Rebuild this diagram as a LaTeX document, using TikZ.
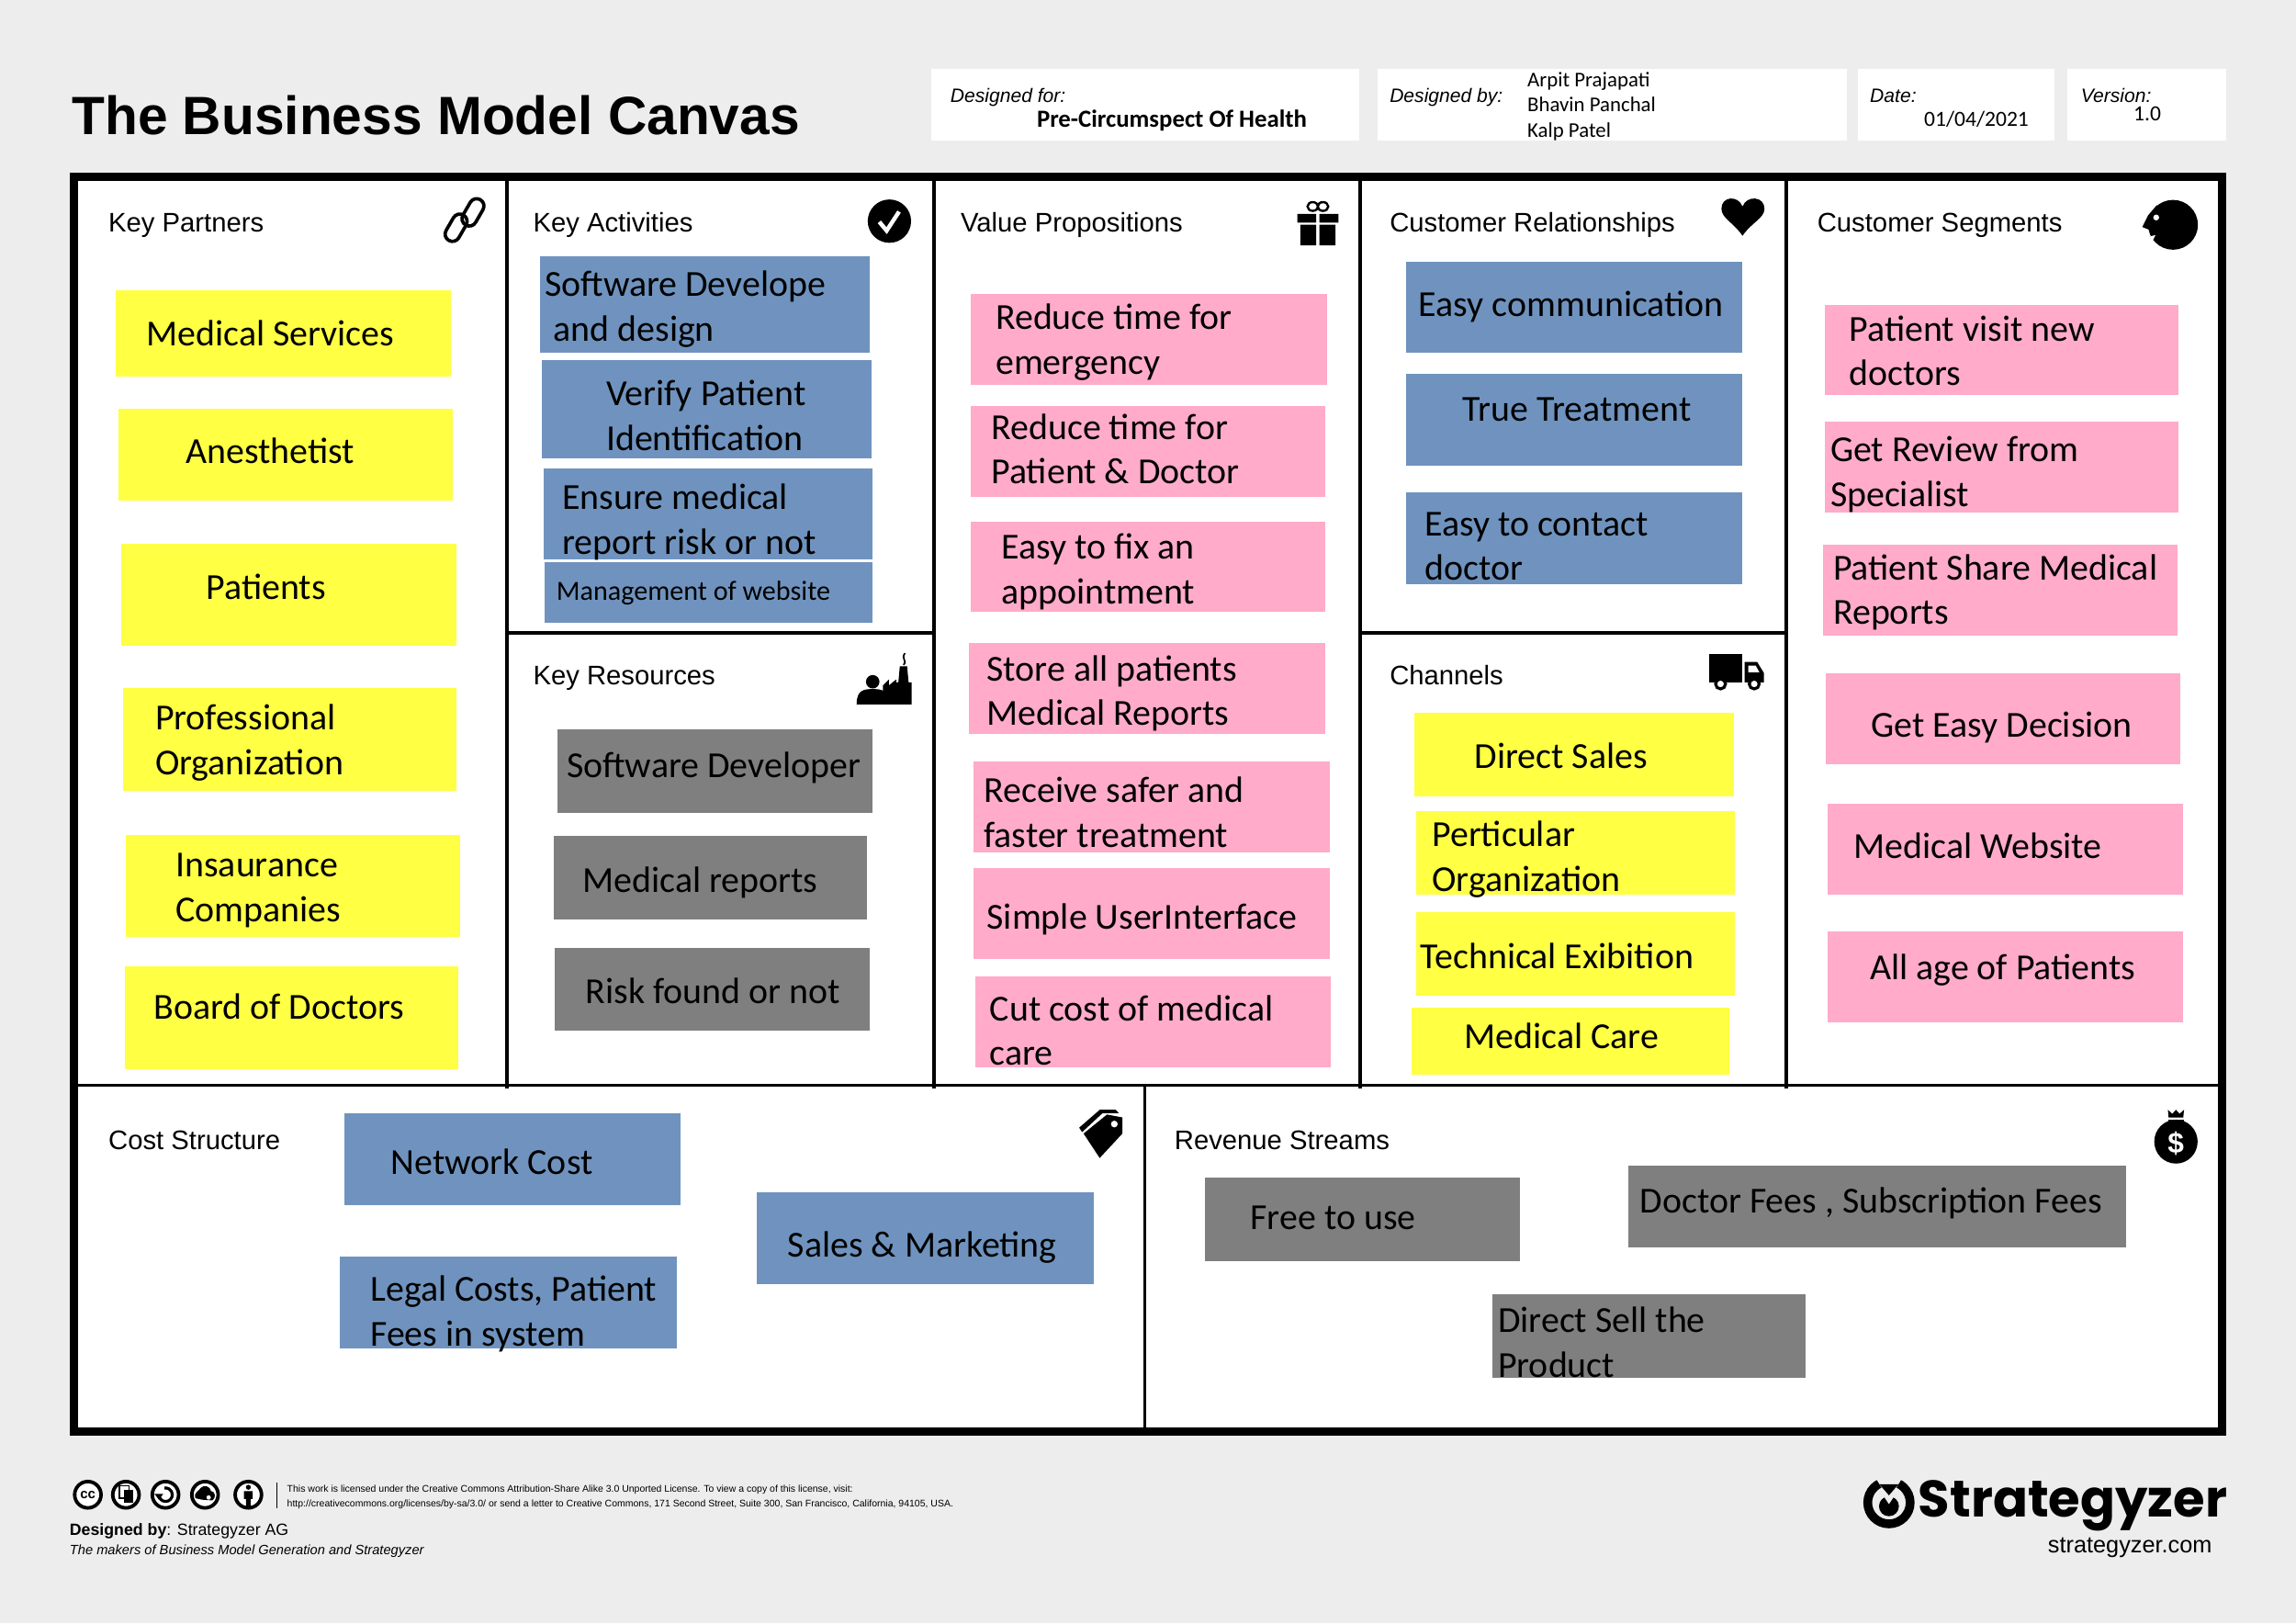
\documentclass[tikz,border=0pt]{standalone}
\usepackage{fontspec}
\setmainfont{Carlito}
\newfontfamily\arialf{Liberation Sans}
\newfontfamily\logof{Poppins}
\usetikzlibrary{shapes.geometric}
\def\uu{0.063776cm}
\definecolor{pagebg}{HTML}{EDEDED}
\definecolor{sy}{HTML}{FFFF44}
\definecolor{sp}{HTML}{FFABC9}
\definecolor{sb}{HTML}{6F93BE}
\definecolor{sg}{HTML}{7F7F7F}
\newcommand\fsz[1]{\fontsize{#1}{55.3}\selectfont}
\newcommand\LL[1]{\rule[-.2\baselineskip]{0pt}{\baselineskip}#1}
\newcommand\lineone[1]{\LL{#1}}
\newcommand\linetwo[2]{\LL{#1}\\\LL{#2}}
\tikzset{
  stickbox/.style={shape=rectangle,draw=none,inner sep=0pt,outer sep=0pt},
  sticktext/.style={anchor=west,inner sep=0pt,outer sep=0pt,align=left,text=black,font=\fsz{45.4}},
  small text/.style={sticktext,font=\fsz{34.3}},
  blocklabel/.style={anchor=base west,inner sep=0pt,font=\arialf\fontsize{33.3}{40}\selectfont},
  headlabel/.style={anchor=base west,inner sep=0pt,font=\arialf\itshape\fontsize{24}{29}\selectfont},
  headval/.style={anchor=base west,inner sep=0pt,font=\fontsize{26}{29}\selectfont},
  headbox/.style={stickbox,fill=white},
  foot/.style={anchor=base west,inner sep=0pt,font=\arialf\fontsize{11.95}{14}\selectfont},
  ccring/.style={draw=black,fill=white,circle,inner sep=0pt,minimum size=18*\uu,line width=2.4*\uu},
  thick frame/.style={draw=black,line width=5.5*\uu},
  divider/.style={draw=black,line width=2.6*\uu},
  thin divider/.style={draw=black,line width=1.8*\uu},
  linkring/.style={draw=black,shape=rectangle,rounded corners=5*\uu,minimum width=20*\uu,minimum height=10*\uu,inner sep=0pt,line width=2.3*\uu,rotate=60},
}
\newcommand\stick[9]{%
  \pgfmathsetlengthmacro\bw{(#4-#2)*\uu}\pgfmathsetlengthmacro\bh{(#5-#3)*\uu}%
  \node[stickbox,fill=#6,minimum width=\bw,minimum height=\bh] (#1) at ({(#2+#4)/2},{(#3+#5)/2}) {};
  \node[sticktext] (#1t) at (#7,#8) {#9};
}
\begin{document}
\begin{tikzpicture}[x=\uu,y=-\uu]
\useasboundingbox (0,0) rectangle (1568,1108.27);
\fill[pagebg] (0,0) rectangle (1568,1108.27);
% canvas
\fill[white] (50,120) rectangle (1518,978);
% header
\node[anchor=base west,inner sep=0pt,font=\arialf\bfseries\fontsize{66.8}{80}\selectfont] (title) at (49,91.6) {The Business Model Canvas};
\node[headbox,minimum width=292*\uu,minimum height=49*\uu] (hb1) at (782,71.5) {};
\node[headbox,minimum width=320*\uu,minimum height=49*\uu] (hb2) at (1101,71.5) {};
\node[headbox,minimum width=134*\uu,minimum height=49*\uu] (hb3) at (1336,71.5) {};
\node[headbox,minimum width=108*\uu,minimum height=49*\uu] (hb4) at (1466,71.5) {};
\node[headlabel] (h1) at (649,70) {Designed for:};
\node[headval,font=\bfseries\fontsize{30.5}{34}\selectfont] (h1v) at (708,87) {Pre-Circumspect Of Health};
\node[headlabel] (h2) at (949,70) {Designed by:};
\node[headval] (h2a) at (1043,59) {Arpit Prajapati};
\node[headval] (h2b) at (1043,76.5) {Bhavin Panchal};
\node[headval] (h2c) at (1043,94) {Kalp Patel};
\node[headlabel] (h3) at (1277,70) {Date:};
\node[headval,font=\fontsize{26.8}{30}\selectfont] (h3v) at (1314,86) {01/04/2021};
\node[headlabel] (h4) at (1421,70) {Version:};
\node[headval,font=\fontsize{26.8}{30}\selectfont] (h4v) at (1457,82.5) {1.0};
% dividers
\draw[divider] (346,120) -- (346,743);
\draw[divider] (638,120) -- (638,743);
\draw[divider] (929,120) -- (929,743);
\draw[divider] (1220,120) -- (1220,743);
\draw[divider] (346,432) -- (638,432);
\draw[divider] (929,432) -- (1220,432);
\draw[thin divider] (50,741) -- (1518,741);
\draw[thin divider] (782,741) -- (782,978);
\draw[thick frame] (50.5,120.5) rectangle (1517.5,977.5);
% block labels
\node[blocklabel] (kp) at (74,158.5) {Key Partners};
\node[blocklabel] (ka) at (364,158.5) {Key Activities};
\node[blocklabel] (vp) at (656,158.5) {Value Propositions};
\node[blocklabel] (cr) at (949,158.5) {Customer Relationships};
\node[blocklabel] (cs) at (1241,158.5) {Customer Segments};
\node[blocklabel] (kr) at (364,467.5) {Key Resources};
\node[blocklabel] (ch) at (949,467.5) {Channels};
\node[blocklabel] (co) at (74,785) {Cost Structure};
\node[blocklabel] (rs) at (802,785) {Revenue Streams};
% key partners
\stick{kpa}{79}{198}{308}{257}{sy}{100}{227}{\lineone{Medical Services}}
\stick{kpb}{81}{279}{309}{342}{sy}{127}{307}{\lineone{Anesthetist}}
\stick{kpc}{83}{371}{312}{441}{sy}{141}{400}{\lineone{Patients}}
\stick{kpd}{84}{470}{312}{540}{sy}{106}{504.5}{\linetwo{Professional}{Organization}}
\stick{kpe}{86}{570}{314}{640}{sy}{120}{605}{\linetwo{Insaurance}{Companies}}
\stick{kpf}{85}{660}{313}{730}{sy}{105}{687}{\lineone{Board of Doctors}}
% key activities
\stick{kaa}{369}{175}{594}{241}{sb}{372}{208.5}{\linetwo{Software Develope}{\hspace{0.38cm}and design}}
\stick{kab}{370}{246}{595}{313}{sb}{414}{283}{\linetwo{Verify Patient}{Identification}}
\stick{kac}{371}{320}{596}{382}{sb}{384}{354}{\linetwo{Ensure medical}{report risk or not}}
\pgfmathsetlengthmacro\bw{224*\uu}\pgfmathsetlengthmacro\bh{41*\uu}
\node[stickbox,fill=sb,minimum width=\bw,minimum height=\bh] (kad) at (484,404.5) {};
\node[small text] (kadt) at (380,401) {\lineone{Management of website}};
% key resources
\stick{kra}{381}{498}{596}{555}{sg}{387}{522}{\lineone{Software Developer}}
\stick{krb}{378}{571}{592}{628}{sg}{398}{600}{\lineone{Medical reports}}
\stick{krc}{379}{647}{594}{704}{sg}{400}{676}{\lineone{Risk found or not}}
% value propositions
\stick{vpa}{663}{201}{906}{263}{sp}{680}{231}{\linetwo{Reduce time for}{emergency}}
\stick{vpb}{663}{277}{905}{339}{sp}{677}{306}{\linetwo{Reduce time for}{Patient \& Doctor}}
\stick{vpc}{663}{356}{905}{418}{sp}{684}{388}{\linetwo{Easy to fix an}{appointment}}
\stick{vpd}{662}{439}{905}{501}{sp}{674}{471}{\linetwo{Store all patients}{Medical Reports}}
\stick{vpe}{665}{520}{908}{582}{sp}{672}{554}{\linetwo{Receive safer and}{faster treatment}}
\stick{vpf}{665}{593}{908}{655}{sp}{674}{625}{\lineone{Simple UserInterface}}
\stick{vpg}{666}{667}{909}{729}{sp}{676}{703}{\linetwo{Cut cost of medical}{care}}
% customer relationships
\stick{cra}{960}{179}{1190}{241}{sb}{969}{207}{\lineone{Easy communication}}
\stick{crb}{960}{255}{1190}{318}{sb}{999}{278.5}{\lineone{True Treatment}}
\stick{crc}{960}{336}{1190}{399}{sb}{973}{372}{\linetwo{Easy to contact}{doctor}}
% channels
\stick{cha}{966}{487}{1184}{544}{sy}{1007}{515.5}{\lineone{Direct Sales}}
\stick{chb}{967}{554}{1185}{611}{sy}{978}{584}{\linetwo{Perticular}{Organization}}
\stick{chc}{967}{623}{1185}{680}{sy}{970}{652}{\lineone{Technical Exibition}}
\stick{chd}{964}{688}{1181}{734}{sy}{1000}{707}{\lineone{Medical Care}}
% customer segments
\stick{csa}{1246}{208}{1488}{270}{sp}{1263}{239}{\linetwo{Patient visit new}{doctors}}
\stick{csb}{1246}{288}{1488}{350}{sp}{1250}{321.5}{\linetwo{Get Review from}{Specialist}}
\stick{csc}{1245}{372}{1487}{434}{sp}{1252}{402}{\linetwo{Patient Share Medical}{Reports}}
\stick{csd}{1247}{460}{1489}{522}{sp}{1278}{494}{\lineone{Get Easy Decision}}
\stick{cse}{1248}{549}{1491}{611}{sp}{1266}{577}{\lineone{Medical Website}}
\stick{csf}{1248}{636}{1491}{698}{sp}{1277}{660}{\lineone{All age of Patients}}
% cost
\stick{coa}{235}{760}{465}{823}{sb}{267}{793}{\lineone{Network Cost}}
\stick{cob}{517}{814}{747}{877}{sb}{538}{849}{\lineone{Sales \& Marketing}}
\stick{coc}{232}{858}{462}{921}{sb}{253}{894.5}{\linetwo{Legal Costs, Patient}{Fees in system}}
% revenue
\stick{rsa}{823}{804}{1038}{861}{sg}{854}{830.5}{\lineone{Free to use}}
\stick{rsb}{1112}{796}{1452}{852}{sg}{1120}{819}{\lineone{Doctor Fees , Subscription Fees}}
\stick{rsc}{1019}{884}{1233}{941}{sg}{1023}{916}{\linetwo{Direct Sell the}{Product}}
% icon: link
\node[linkring] (link1) at (311.5,155.5) {};
\node[linkring] (link2) at (323,145) {};
% icon: check
\fill[black] (607.4,151) circle (14.8);
\draw[white,line width=2.8*\uu] (600.5,151.5) -- (605.5,157.5) -- (614,144.5);
% icon: gift
\fill[black] (886,146) rectangle (898.8,152) (901,146) rectangle (914,152);
\fill[black] (888,153.5) rectangle (898.8,167.5) (901,153.5) rectangle (912,167.5);
\draw[black,line width=1.5*\uu] (896.5,141) ellipse (3.6 and 3) (903.5,141) ellipse (3.6 and 3);
% icon: heart
\fill[black] (1190,161) .. controls (1184,152) and (1175.6,149) .. (1175.6,142.5) .. controls (1175.6,134) and (1187,133) .. (1190,141) .. controls (1193,133) and (1205,134) .. (1205,142.5) .. controls (1205,149) and (1196,152) .. (1190,161) -- cycle;
% icon: face
\fill[black] (1484,153.5) circle (17);
\fill[black] (1473,140) -- (1467,147) -- (1463,155) -- (1468,157) -- (1470,160) -- (1468,162) -- (1476,168) -- cycle;
\fill[white] (1472.5,148.5) circle (2);
\fill[white] (1466,162) -- (1472,160.5) -- (1470,164.5) -- cycle;
% icon: factory and person
\fill[black] (596,465.5) circle (4.6);
\fill[black] (585,481) .. controls (585,471) and (590,470.5) .. (596,470.5) .. controls (602,470.5) and (607,471) .. (607,481) -- cycle;
\fill[black] (603,481) -- (603,468) -- (607,464) -- (607,468) -- (612,464) -- (612,466) -- (613.5,466) -- (614.5,455) -- (619.5,455) -- (620.5,466) -- (622.5,466) -- (622.5,481) -- cycle;
\draw[black,line width=1.1*\uu] (617,454) .. controls (620,451) and (615,450) .. (618,446);
% icon: truck
\fill[black] (1167.5,446.5) rectangle (1190,466);
\fill[black] (1191.5,452) -- (1200,452) -- (1204.6,459.5) -- (1204.6,466) -- (1191.5,466) -- cycle;
\fill[white] (1194,454.5) -- (1199,454.5) -- (1201.5,459) -- (1194,459) -- cycle;
\draw[black,fill=white,line width=2*\uu] (1175,467) circle (3.4) (1198,467) circle (3.4);
% icon: tag
\fill[black] (740,774) -- (751,790.7) -- (766.5,774) -- (766.5,763) -- (756,761) -- cycle;
\fill[black] (737,770) -- (751,757.8) -- (762,757.8) -- (764,760) -- (753,760) -- (739,773) -- cycle;
\fill[white] (761,767.5) circle (2.3);
% icon: money bag
\fill[black] (1486,779.5) ellipse (14.8 and 15);
\fill[black] (1480.5,757.8) -- (1483.5,760.5) -- (1486,757.8) -- (1488.5,760.5) -- (1491.5,757.8) -- (1491,763) -- (1481,763) -- cycle;
\fill[black] (1480.5,764.5) rectangle (1491.5,767);
\node[inner sep=0pt,text=white,font=\arialf\bfseries\fontsize{36}{40}\selectfont] (dollar) at (1486,780.5) {\$};
% footer icons
\node[ccring,font=\arialf\bfseries\fontsize{17}{17}\selectfont] (cc1) at (60,1020.6) {cc};
\node[ccring] (cc2) at (86,1020.6) {};
\draw[black,line width=1*\uu,fill=white] (81.5,1014.5) rectangle (88,1023);
\fill[black] (84.5,1017.5) rectangle (91,1026);
\node[ccring] (cc3) at (113,1020.6) {};
\draw[black,line width=2*\uu] (108.5,1020.6) arc (180:-100:4.6);
\fill[black] (105.5,1020) -- (111.5,1020) -- (108.5,1024) -- cycle;
\node[ccring] (cc4) at (140,1020.6) {};
\fill[black] (133.5,1023) .. controls (132,1019) and (136,1018) .. (137,1016) .. controls (139,1013.5) and (144,1015) .. (144,1018) .. controls (147.5,1018.5) and (147.5,1023) .. (145,1024.5) -- (138,1024) -- cycle;
\fill[white] (142.5,1022.5) circle (1.5);
\node[ccring] (cc5) at (169.6,1020.6) {};
\fill[black] (169.6,1015.5) circle (1.7);
\fill[black] (166.6,1018.2) rectangle (172.6,1023.5) (168,1023.5) rectangle (171.2,1028.5);
\draw[black,line width=.7*\uu] (189,1012) -- (189,1030);
% footer text
\node[foot] (lic1) at (196,1019) {This work is licensed under the Creative Commons Attribution-Share Alike 3.0 Unported License. To view a copy of this license, visit:};
\node[foot] (lic2) at (196,1029) {http://creativecommons.org/licenses/by-sa/3.0/ or send a letter to Creative Commons, 171 Second Street, Suite 300, San Francisco, California, 94105, USA.};
\node[foot,font=\arialf\fontsize{20.2}{24}\selectfont] (des) at (47.5,1048.5) {\textbf{Designed by}: Strategyzer AG};
\node[foot,font=\arialf\itshape\fontsize{16.7}{21}\selectfont] (mak) at (47.5,1061.5) {The makers of Business Model Generation and Strategyzer};
% logo
\draw[black,line width=6*\uu] (1290,1026) circle (14.5);
\fill[pagebg] (1290,1024) -- (1279,1006) -- (1301,1006) -- cycle;
\fill[black] (1290,1028.5) circle (6.8);
\fill[pagebg] (1286,1021) -- (1294,1021) -- (1290,1027) -- cycle;
\fill[black] (1283.5,1013.5) -- (1296.5,1013.5) -- (1290,1021) -- cycle;
\node[anchor=base west,inner sep=0pt,font=\logof\bfseries\fontsize{63.8}{70}\selectfont] (logo) at (1310,1036) {Strategyzer};
\node[anchor=base west,inner sep=0pt,font=\arialf\fontsize{28.8}{34}\selectfont] (url) at (1398.5,1060) {strategyzer.com};
\end{tikzpicture}
\end{document}
